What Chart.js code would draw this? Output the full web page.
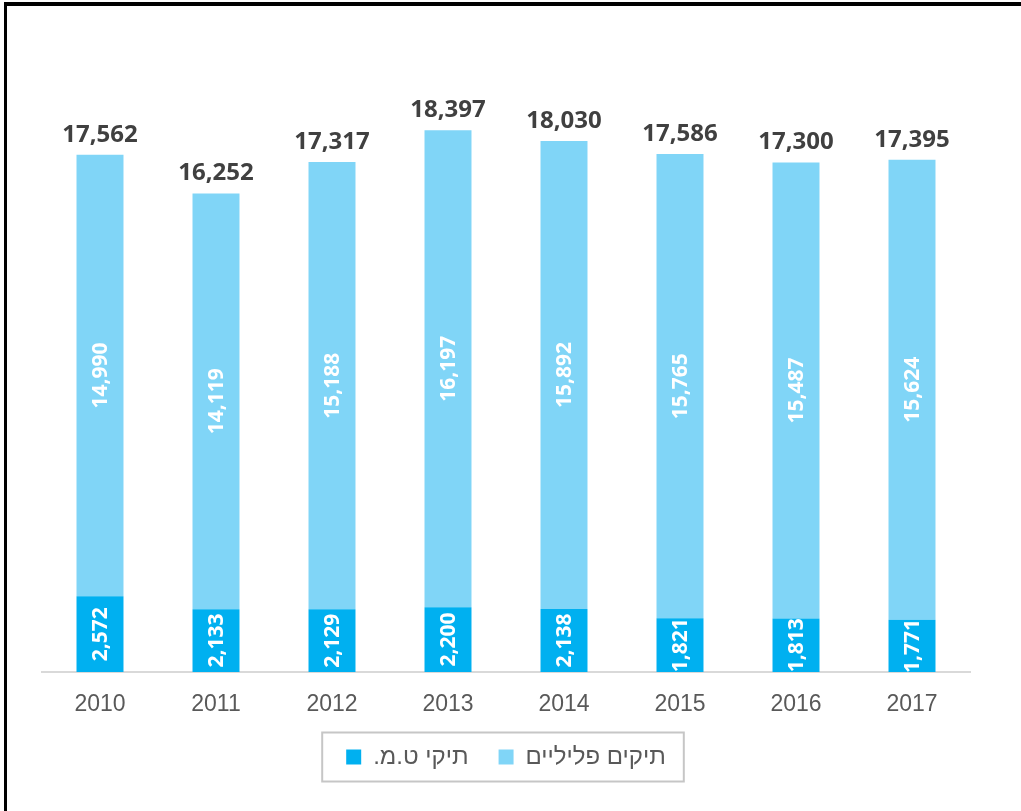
<!DOCTYPE html>
<html>
<head>
<meta charset="utf-8">
<script src="https://cdn.jsdelivr.net/npm/chart.js@4/dist/chart.umd.min.js"></script>
<style>
  html, body { margin: 0; padding: 0; background: #fff; }
  #wrap { position: relative; width: 1021px; height: 811px; }
  #frame {
    position: absolute; left: 4px; top: 2px; right: 0; bottom: 0;
    border-top: 4px solid #000; border-left: 3px solid #000;
    pointer-events: none;
  }
</style>
</head>
<body>
<div id="wrap">
  <canvas id="barChart" width="1021" height="811"></canvas>
  <div id="frame"></div>
</div>
<script>
// Data
const years = ['2010', '2011', '2012', '2013', '2014', '2015', '2016', '2017'];
const tmFiles = [2572, 2133, 2129, 2200, 2138, 1821, 1813, 1771];
const criminalFiles = [14990, 14119, 15188, 16197, 15892, 15765, 15487, 15624];
const totals = [17562, 16252, 17317, 18397, 18030, 17586, 17300, 17395];

const seriesLabels = ['תיקי ט.מ.', 'תיקים פליליים'];
const colors = { tm: '#00B0F0', criminal: '#80D5F7' };

const fmt = v => v.toLocaleString('en-US');

// Labels inside the bars (rotated) and totals above the stacks
const valueLabels = {
    id: 'valueLabels',
    afterDatasetsDraw(chart) {
        const ctx = chart.ctx;
        ctx.save();
        ctx.fillStyle = '#fff';
        ctx.font = 'bold 21px "Open Sans", sans-serif';
        ctx.textAlign = 'center';
        ctx.textBaseline = 'middle';
        chart.data.datasets.forEach((ds, di) => {
            chart.getDatasetMeta(di).data.forEach((bar, i) => {
                const cy = (bar.y + bar.base) / 2;
                ctx.save();
                ctx.translate(bar.x, cy);
                ctx.rotate(-Math.PI / 2);
                ctx.fillText(fmt(ds.data[i]), 0, 1);
                ctx.restore();
            });
        });
        // totals
        const top = chart.getDatasetMeta(chart.data.datasets.length - 1).data;
        ctx.fillStyle = '#404040';
        ctx.font = 'bold 24px "Open Sans", sans-serif';
        ctx.textBaseline = 'bottom';
        top.forEach((bar, i) => {
            ctx.fillText(fmt(totals[i]), bar.x, bar.y - 8);
        });
        ctx.restore();
    }
};

// Gray frame around the legend
const legendFrame = {
    id: 'legendFrame',
    afterDraw(chart) {
        const boxes = chart.legend && chart.legend.legendHitBoxes;
        if (!boxes || !boxes.length) return;
        const left = Math.min(...boxes.map(b => b.left)) - 24;
        const right = Math.max(...boxes.map(b => b.left + b.width)) + 18;
        const cy = boxes[0].top + boxes[0].height / 2;
        const ctx = chart.ctx;
        ctx.save();
        ctx.strokeStyle = '#c6c6c6';
        ctx.lineWidth = 2;
        ctx.strokeRect(left, cy - 24.5, right - left, 49);
        ctx.restore();
    }
};

const barChart = new Chart(document.getElementById('barChart'), {
    type: 'bar',
    data: {
        labels: years,
        datasets: [
            {
                label: seriesLabels[0],
                data: tmFiles,
                backgroundColor: colors.tm,
                categoryPercentage: 1,
                barPercentage: 0.405
            },
            {
                label: seriesLabels[1],
                data: criminalFiles,
                backgroundColor: colors.criminal,
                categoryPercentage: 1,
                barPercentage: 0.405
            }
        ]
    },
    options: {
        responsive: false,
        animation: false,
        layout: {
            padding: { left: 42, right: 51, top: 83, bottom: 32 }
        },
        plugins: {
            legend: {
                display: true,
                position: 'bottom',
                textDirection: 'rtl',
                labels: {
                    boxWidth: 15,
                    boxHeight: 15,
                    padding: 30,
                    color: '#595959',
                    font: { family: '"Liberation Sans", Arial, sans-serif', size: 24 }
                }
            },
            tooltip: { enabled: false }
        },
        scales: {
            x: {
                stacked: true,
                grid: { display: false, drawTicks: false },
                border: { color: '#d9d9d9', width: 2 },
                ticks: {
                    color: '#595959',
                    padding: 19,
                    font: { family: '"Liberation Sans", Arial, sans-serif', size: 23 }
                },
                // fixed axis band so the legend sits close below the labels
                afterFit(scale) {
                    scale.height = 43;
                }
            },
            y: {
                stacked: true,
                display: false,
                min: 0,
                max: 20000
            }
        }
    },
    plugins: [valueLabels, legendFrame]
});
</script>
</body>
</html>
